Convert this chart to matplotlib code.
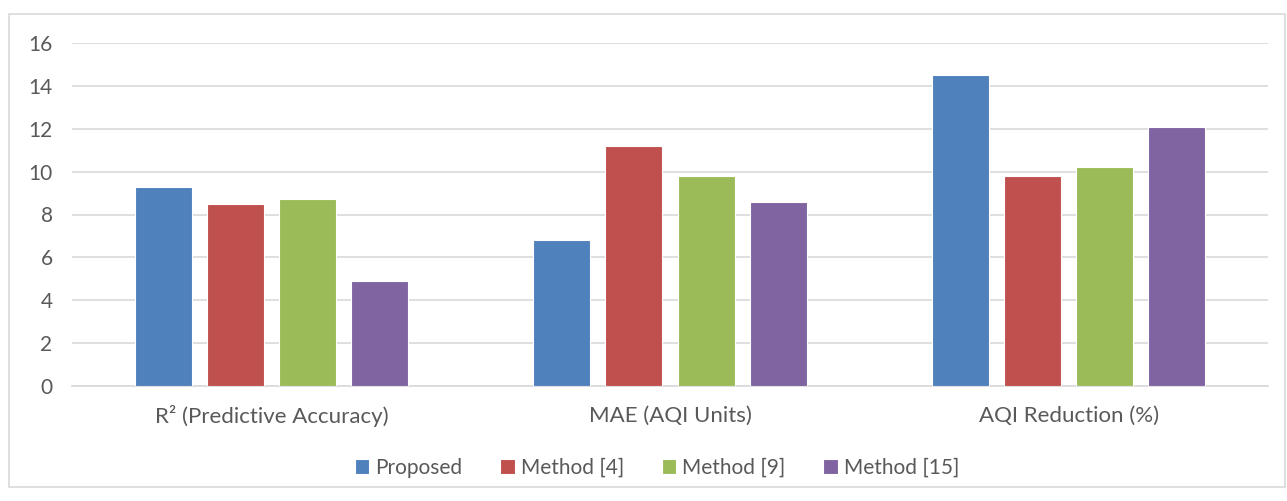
import numpy as np
import matplotlib
matplotlib.use("Agg")
import matplotlib.pyplot as plt
from matplotlib.patches import Rectangle

# data
categories = ["R² (Predictive Accuracy)", "MAE (AQI Units)", "AQI Reduction (%)"]
series = ["Proposed", "Method [4]", "Method [9]", "Method [15]"]
proposed = [9.3, 6.8, 14.5]
method4 = [8.5, 11.2, 9.8]
method9 = [8.7, 9.8, 10.2]
method15 = [4.9, 8.6, 12.1]
yticks = [0, 2, 4, 6, 8, 10, 12, 14, 16]

values = [proposed, method4, method9, method15]
colors = ["#4F81BD", "#C0504D", "#9BBB59", "#8064A2"]

plt.rcParams['font.family'] = ['Lato', 'DejaVu Sans']
txt = "#595959"

fig = plt.figure(figsize=(12.87, 5.01), dpi=100)
fig.patches.append(Rectangle((9 / 1287, 1 - 487 / 501), 1 - 9 / 1287 - 2 / 1287, (487 - 14) / 501,
                             transform=fig.transFigure, fill=False, edgecolor="#D9D9D9", lw=1.2))
ax = fig.add_axes([72 / 1287, 1 - 386 / 501, (1268 - 72) / 1287, (386 - 43) / 501])

x = np.arange(len(categories))
w = 0.143
step = 0.181
for i, (name, vals) in enumerate(zip(series, values)):
    ax.bar(x + (i - 1.5) * step, vals, width=w, color=colors[i], label=name,
           edgecolor="white", linewidth=0.8, zorder=3)

ax.set_xlim(-0.5, len(categories) - 0.5)
ax.set_ylim(0, 16)
ax.set_yticks(yticks)
ax.set_xticks(x)
ax.set_xticklabels(categories)
ax.yaxis.grid(True, color="#D9D9D9", lw=1.2, zorder=0)
for s in ["top", "right", "left"]:
    ax.spines[s].set_visible(False)
ax.spines["bottom"].set_color("#D9D9D9")
ax.spines["bottom"].set_linewidth(1.2)
ax.tick_params(axis="both", length=0, labelsize=15, colors=txt)
ax.tick_params(axis="x", pad=14, labelsize=16)
ax.tick_params(axis="y", pad=14)

leg = fig.legend(loc="center", bbox_to_anchor=(657 / 1287, 1 - 468 / 501), ncol=4, frameon=False,
                 fontsize=15, handlelength=0.7, handleheight=0.7, handletextpad=0.3, columnspacing=1.8)
for t in leg.get_texts():
    t.set_color(txt)

fig.savefig("out.png", dpi=100)
